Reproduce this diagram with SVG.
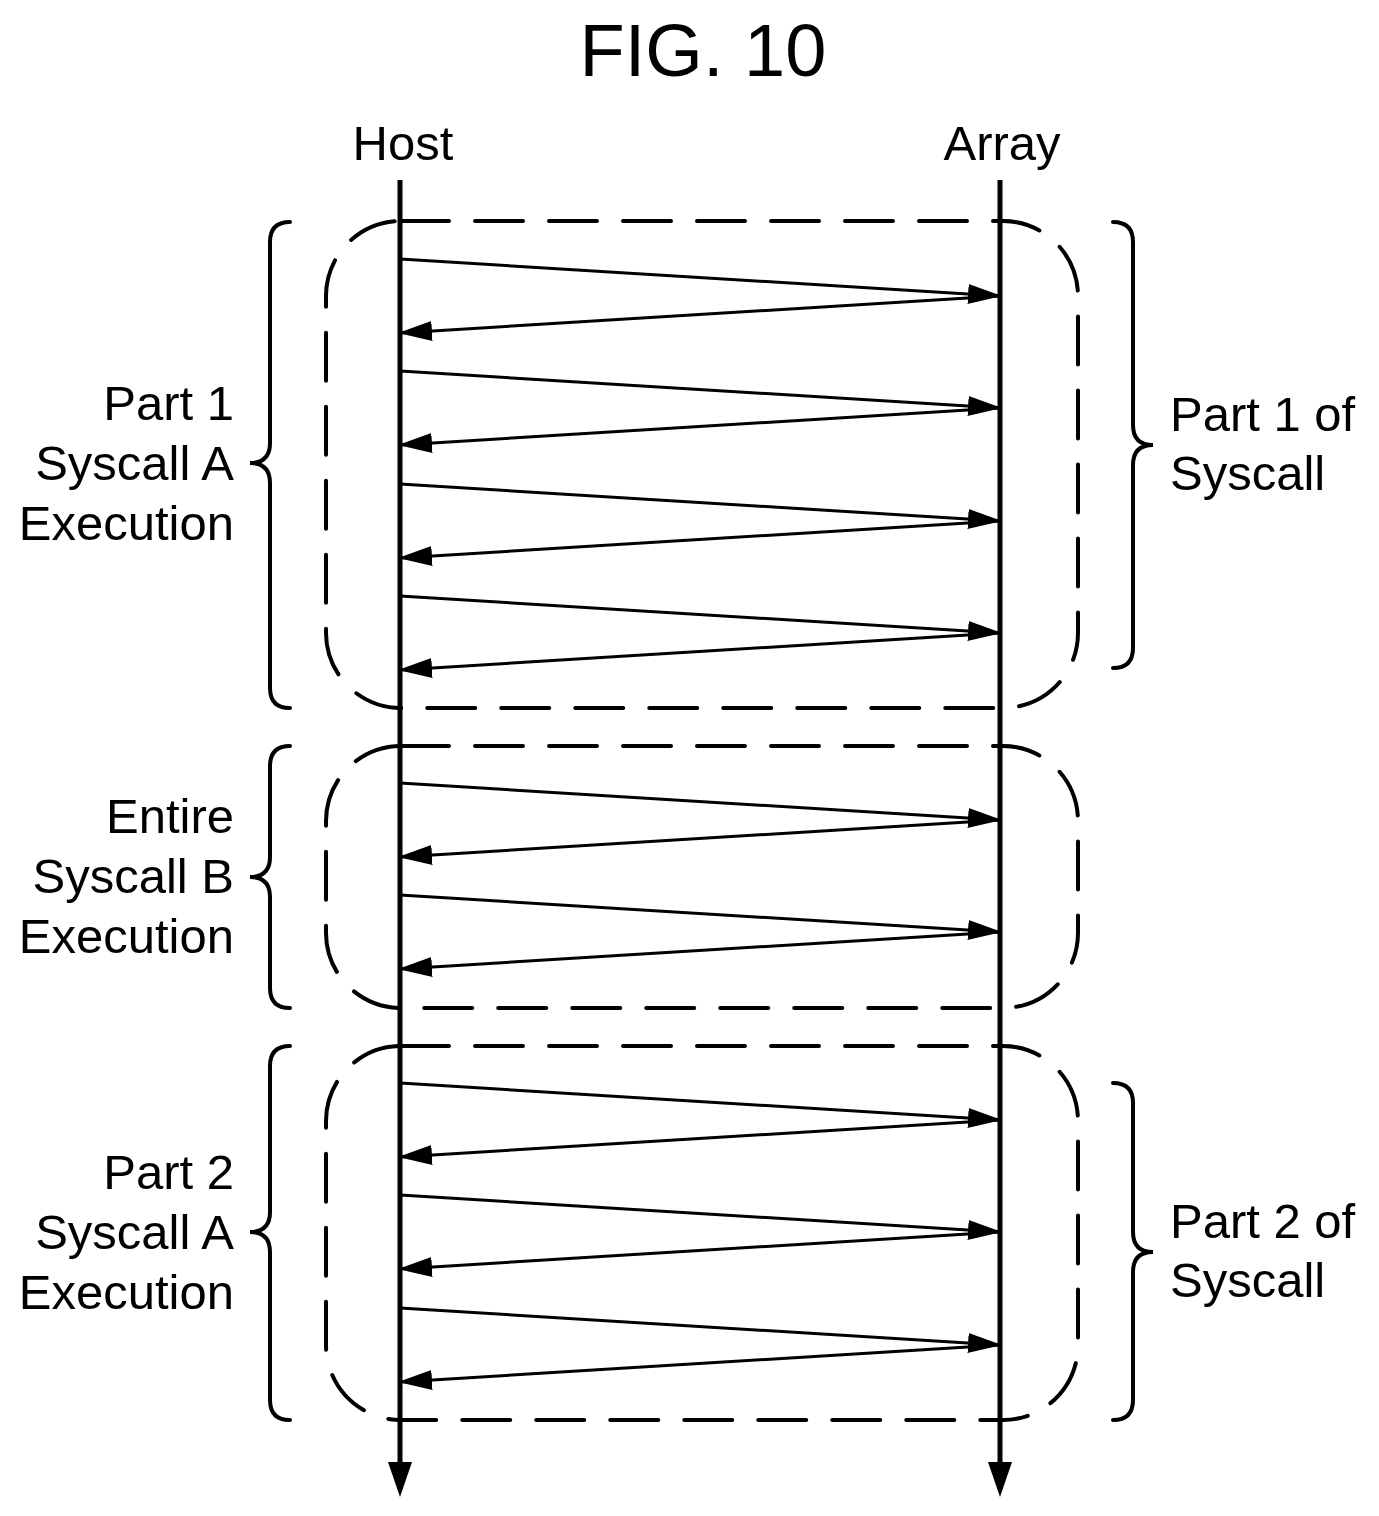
<svg xmlns="http://www.w3.org/2000/svg" width="1379" height="1516" viewBox="0 0 1379 1516">
<defs>
<marker id="ah" markerWidth="34" markerHeight="20" refX="32" refY="10" orient="auto" markerUnits="userSpaceOnUse"><path d="M0,0 L34,10 L0,20 Z" fill="#000"/></marker>
<style>
text{font-family:"Liberation Sans",Arial,sans-serif;fill:#000}
.l{font-size:49px;text-anchor:end}
.r{font-size:49px}
.box{fill:none;stroke:#000;stroke-width:4;stroke-dasharray:48,26;stroke-linecap:round}
.br{fill:none;stroke:#000;stroke-width:4;stroke-linecap:round}
.m{stroke:#000;stroke-width:3;fill:none}
.life{stroke:#000;stroke-width:5}
</style>
</defs>
<rect width="1379" height="1516" fill="#fff"/>
<text x="703" y="76" font-size="74" text-anchor="middle">FIG. 10</text>
<g id="host"><text x="403" y="160" font-size="49" text-anchor="middle">Host</text><line class="life" x1="400" y1="180" x2="400" y2="1465"/><path d="M388,1462 L412,1462 L400,1497 Z"/></g>
<g id="array"><text x="1002" y="160" font-size="49" text-anchor="middle">Array</text><line class="life" x1="1000" y1="180" x2="1000" y2="1465"/><path d="M988,1462 L1012,1462 L1000,1497 Z"/></g>
<g id="boxes">
<rect class="box" x="326" y="221" width="752" height="487" rx="75"/>
<rect class="box" x="326" y="746" width="752" height="262" rx="75"/>
<rect class="box" x="326" y="1046" width="752" height="374" rx="75"/>
</g>
<g id="braces">
<path class="br" d="M290,222 Q270,222 270,242 L270,443 Q270,463 250,463 Q270,463 270,483 L270,688 Q270,708 290,708"/>
<path class="br" d="M290,746 Q270,746 270,766 L270,857 Q270,877 250,877 Q270,877 270,897 L270,988 Q270,1008 290,1008"/>
<path class="br" d="M290,1046 Q270,1046 270,1066 L270,1212 Q270,1232 250,1232 Q270,1232 270,1252 L270,1400 Q270,1420 290,1420"/>
<path class="br" d="M1113,222 Q1133,222 1133,242 L1133,425 Q1133,445 1153,445 Q1133,445 1133,465 L1133,648 Q1133,668 1113,668"/>
<path class="br" d="M1113,1083 Q1133,1083 1133,1103 L1133,1232 Q1133,1252 1153,1252 Q1133,1252 1133,1272 L1133,1400 Q1133,1420 1113,1420"/>
</g>
<g id="connectors">
<path class="m" marker-end="url(#ah)" d="M400,259 L1000,296"/><path class="m" marker-end="url(#ah)" d="M1000,296 L400,333"/>
<path class="m" marker-end="url(#ah)" d="M400,371 L1000,408"/><path class="m" marker-end="url(#ah)" d="M1000,408 L400,445"/>
<path class="m" marker-end="url(#ah)" d="M400,484 L1000,521"/><path class="m" marker-end="url(#ah)" d="M1000,521 L400,558"/>
<path class="m" marker-end="url(#ah)" d="M400,596 L1000,633"/><path class="m" marker-end="url(#ah)" d="M1000,633 L400,670"/>
<path class="m" marker-end="url(#ah)" d="M400,783 L1000,820"/><path class="m" marker-end="url(#ah)" d="M1000,820 L400,857"/>
<path class="m" marker-end="url(#ah)" d="M400,895 L1000,932"/><path class="m" marker-end="url(#ah)" d="M1000,932 L400,969"/>
<path class="m" marker-end="url(#ah)" d="M400,1083 L1000,1120"/><path class="m" marker-end="url(#ah)" d="M1000,1120 L400,1157"/>
<path class="m" marker-end="url(#ah)" d="M400,1195 L1000,1232"/><path class="m" marker-end="url(#ah)" d="M1000,1232 L400,1269"/>
<path class="m" marker-end="url(#ah)" d="M400,1308 L1000,1345"/><path class="m" marker-end="url(#ah)" d="M1000,1345 L400,1382"/>
</g>
<g id="labels">
<text class="l" x="234" y="420">Part 1</text><text class="l" x="234" y="480">Syscall A</text><text class="l" x="234" y="540">Execution</text>
<text class="l" x="234" y="833">Entire</text><text class="l" x="234" y="893">Syscall B</text><text class="l" x="234" y="953">Execution</text>
<text class="l" x="234" y="1189">Part 2</text><text class="l" x="234" y="1249">Syscall A</text><text class="l" x="234" y="1309">Execution</text>
<text class="r" x="1170" y="431">Part 1 of</text><text class="r" x="1170" y="490">Syscall</text>
<text class="r" x="1170" y="1238">Part 2 of</text><text class="r" x="1170" y="1297">Syscall</text>
</g>
</svg>
